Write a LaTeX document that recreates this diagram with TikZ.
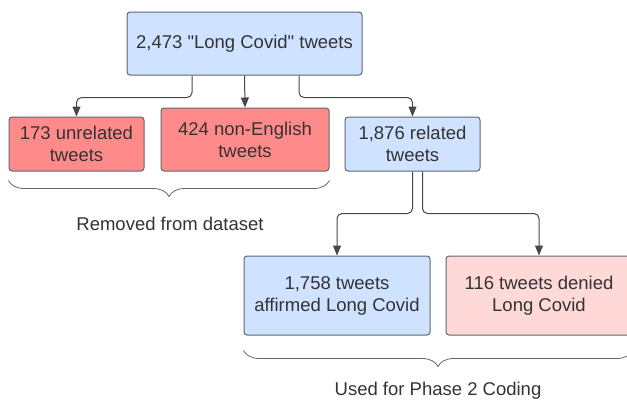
\documentclass[tikz,border=0pt]{standalone}
\usepackage{fontspec}
\setmainfont{Liberation Sans}
\usetikzlibrary{arrows.meta,decorations.pathreplacing}

\definecolor{boxblue}{HTML}{CFE2FF}
\definecolor{boxred}{HTML}{FF8A8A}
\definecolor{boxpink}{HTML}{FFD8D8}
\definecolor{edgegray}{HTML}{5F6670}
\definecolor{inkgray}{HTML}{333333}

\begin{document}
\begin{tikzpicture}[x=1pt,y=-1pt,
  box/.style={draw=edgegray,line width=1pt,rounded corners=3pt,inner sep=0pt,
    align=center,text=inkgray,font=\fontsize{18.5}{22}\selectfont},
  link/.style={draw=edgegray!70!black,line width=1pt,rounded corners=5pt,
    -{Triangle[length=10pt,width=8pt]}},
  brace/.style={draw=edgegray,line width=0.8pt,decorate,
    decoration={brace,mirror,amplitude=16pt}},
  note/.style={text=inkgray,font=\fontsize{18.5}{22}\selectfont}]
\useasboundingbox (0,0) rectangle (627,400);

% tweet counts
\node[box,fill=boxblue,minimum width=235pt,minimum height=63pt] (all) at (244.5,43.5) {2,473 \textquotedbl Long Covid\textquotedbl{} tweets};
\node[box,fill=boxred,minimum width=135pt,minimum height=54pt] (unrel) at (76.5,144) {173 unrelated\\tweets};
\node[box,fill=boxred,minimum width=168pt,minimum height=63pt] (nonen) at (245,139.5) {424 non-English\\tweets};
\node[box,fill=boxblue,minimum width=135pt,minimum height=54pt] (related) at (412.5,144) {1,876 related\\tweets};
\node[box,fill=boxblue,minimum width=186pt,minimum height=79pt] (affirmed) at (337,295.5) {1,758 tweets\\affirmed Long Covid};
\node[box,fill=boxpink,minimum width=186pt,minimum height=79pt] (denied) at (539,295.5) {116 tweets denied\\Long Covid};

% splits
\draw[link] ([xshift=-52.5pt]all.south) -- ++(0,22) -| (unrel.north);
\draw[link] (all.south) -- (nonen.north);
\draw[link] ([xshift=54.5pt]all.south) -- ++(0,22) -| (related.north);
\draw[link] (related.south) -- ++(0,42) -| (affirmed.north);
\draw[link] ([xshift=10pt]related.south) -- ++(0,42) -| (denied.north);

% groups
\draw[brace] ([yshift=-9pt]unrel.south west) -- ([yshift=-9pt]nonen.south east);
\node[note] (removed) at (170,224) {Removed from dataset};
\draw[brace] ([yshift=-15pt]affirmed.south west) -- ([yshift=-15pt]denied.south east);
\node[note] (used) at (438,391) {Used for Phase 2 Coding};
\end{tikzpicture}
\end{document}
